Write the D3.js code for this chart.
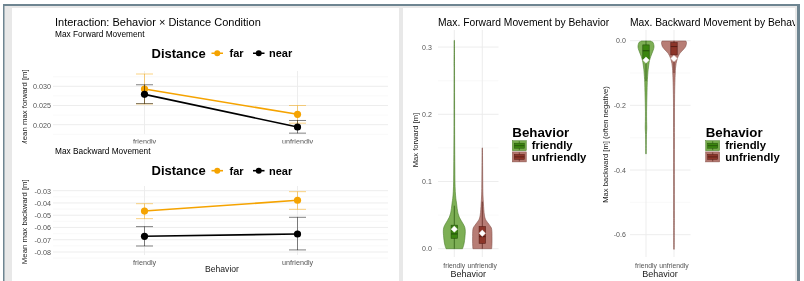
<html lang="en">
  <head>
    <meta charset="utf-8" />
    <title>Behavior x Distance</title>
    <script src="https://cdn.jsdelivr.net/npm/d3@7/dist/d3.min.js"></script>
    <style>
      body { margin: 0; background: #fff; }
      svg { will-change: transform; }
      text { font-family: "Liberation Sans", Arial, sans-serif; }
    </style>
  </head>
  <body>
    <script>
      /*************************** Data ***************************/

      var behaviors = ["friendly", "unfriendly"];
      var distances = ["far", "near"];

      // [mean, lower, upper] per behavior
      var fwdFar = [[0.0293, 0.0254, 0.0332], [0.0227, 0.0204, 0.0250]];
      var fwdNear = [[0.0279, 0.0255, 0.0304], [0.0194, 0.0178, 0.0211]];
      var bwdFar = [[-0.0466, -0.0528, -0.0406], [-0.0378, -0.0452, -0.0308]];
      var bwdNear = [[-0.0672, -0.0751, -0.0593], [-0.0653, -0.0783, -0.0517]];

      var fwdTicks = [0.020, 0.025, 0.030];
      var bwdTicks = [-0.08, -0.07, -0.06, -0.05, -0.04, -0.03];
      var vFwdTicks = [0.0, 0.1, 0.2, 0.3];
      var vBwdTicks = [-0.6, -0.4, -0.2, 0.0];

      // violin profiles: [value, relative half width]
      var vFwdFriendly = [[0, 0.75], [0.005, 0.85], [0.012, 0.93], [0.02, 0.98], [0.026, 1.0], [0.032, 0.95],
        [0.037, 0.8], [0.042, 0.62], [0.047, 0.45], [0.053, 0.33], [0.06, 0.26], [0.068, 0.2], [0.075, 0.14],
        [0.085, 0.09], [0.1, 0.06], [0.12, 0.05], [0.14, 0.04], [0.17, 0.03], [0.22, 0.025], [0.27, 0.02], [0.31, 0.015]];
      var vFwdUnfriendly = [[0, 0.85], [0.008, 0.88], [0.018, 0.88], [0.026, 0.87], [0.031, 0.82], [0.035, 0.66],
        [0.039, 0.48], [0.044, 0.28], [0.05, 0.19], [0.058, 0.14], [0.068, 0.1], [0.08, 0.06], [0.1, 0.04],
        [0.12, 0.03], [0.15, 0.015]];
      var vBwdFriendly = [[-0.001, 0.35], [-0.005, 0.55], [-0.012, 0.62], [-0.02, 0.64], [-0.03, 0.57], [-0.04, 0.47],
        [-0.05, 0.37], [-0.06, 0.29], [-0.075, 0.22], [-0.09, 0.17], [-0.11, 0.13], [-0.13, 0.1], [-0.16, 0.08],
        [-0.19, 0.06], [-0.22, 0.045], [-0.25, 0.05], [-0.27, 0.06], [-0.29, 0.035], [-0.32, 0.025], [-0.35, 0.02]];
      var vBwdUnfriendly = [[-0.001, 0.95], [-0.006, 1.0], [-0.012, 0.98], [-0.019, 0.92], [-0.025, 0.8], [-0.032, 0.63],
        [-0.039, 0.47], [-0.047, 0.35], [-0.055, 0.27], [-0.07, 0.17], [-0.085, 0.12], [-0.1, 0.1], [-0.13, 0.07],
        [-0.18, 0.045], [-0.3, 0.035], [-0.45, 0.03], [-0.55, 0.03], [-0.645, 0.02]];

      // box stats: [lowWhisker, q1, median, q3, highWhisker, mean]
      var boxFwd = [[0, 0.0155, 0.022, 0.035, 0.064, 0.029], [0, 0.008, 0.018, 0.033, 0.07, 0.023]];
      var boxBwd = [[-0.125, -0.058, -0.031, -0.013, 0, -0.06], [-0.1, -0.044, -0.018, -0.006, 0, -0.055]];

      /*************************** Styles ***************************/

      var distColor = { far: "#f5a300", near: "#000000" };
      var violinFill = ["#76ab4c", "#b3766e"];
      var violinLine = ["#4c7d2c", "#85524b"];
      var boxFill = ["#3b850f", "#8c3529"];
      var boxLine = ["#24520a", "#571d16"];
      var gridMajor = "#ebebeb", gridMinor = "#f5f5f5";
      var tickColor = "#555555";

      var svg = d3.select("body").append("svg").attr("width", 804).attr("height", 281);

      /*************************** Frame ***************************/

      svg.append("rect").attr("x", 3).attr("y", 4).attr("width", 797).attr("height", 281).attr("fill", "#e8e8e8");
      svg.append("rect").attr("x", 12).attr("y", 8).attr("width", 387).attr("height", 273).attr("fill", "#fff");
      svg.append("rect").attr("x", 403).attr("y", 8).attr("width", 392).attr("height", 273).attr("fill", "#fff");
      var frame = "#6e8591";
      svg.append("rect").attr("x", 3).attr("y", 4).attr("width", 797).attr("height", 2).attr("fill", frame);
      svg.append("rect").attr("x", 3).attr("y", 4).attr("width", 1.5).attr("height", 277).attr("fill", frame);
      svg.append("rect").attr("x", 797).attr("y", 4).attr("width", 3).attr("height", 277).attr("fill", frame);

      /*************************** Interaction plots ***************************/

      var xL = d3.scalePoint().domain(behaviors).range([144.5, 297.5]);

      function interactionPlot(g, opt) {
        var y = d3.scaleLinear().domain(opt.domain).range(opt.range);
        // grid
        opt.minor.forEach(function (v) {
          g.append("line").attr("x1", 53).attr("x2", 388).attr("y1", y(v)).attr("y2", y(v))
            .attr("stroke", gridMinor).attr("stroke-width", 0.6);
        });
        opt.ticks.forEach(function (v) {
          g.append("line").attr("x1", 53).attr("x2", 388).attr("y1", y(v)).attr("y2", y(v))
            .attr("stroke", gridMajor).attr("stroke-width", 0.9);
        });
        behaviors.forEach(function (b) {
          g.append("line").attr("x1", xL(b)).attr("x2", xL(b)).attr("y1", opt.top).attr("y2", opt.bottom)
            .attr("stroke", gridMajor).attr("stroke-width", 0.9);
        });
        // y axis
        var ax = g.append("g").attr("transform", "translate(51,0)")
          .call(d3.axisLeft(y).tickValues(opt.ticks).tickSize(0).tickPadding(0).tickFormat(opt.fmt));
        ax.select(".domain").remove();
        ax.selectAll("text").attr("fill", tickColor).style("font-size", "7.2px").style("font-family", "Liberation Sans, Arial");
        // x labels
        behaviors.forEach(function (b) {
          g.append("text").attr("x", xL(b)).attr("y", opt.bottom + 9.5).attr("text-anchor", "middle")
            .attr("fill", tickColor).style("font-size", "7.2px").text(b);
        });
        // y title
        g.append("text").attr("transform", "translate(27," + opt.ytitleY + ") rotate(-90)")
          .attr("text-anchor", "middle").style("font-size", "7.8px").attr("fill", "#1a1a1a").text(opt.ytitle);

        distances.forEach(function (d) {
          var vals = opt.series[d];
          var col = distColor[d];
          vals.forEach(function (v, i) {
            var cx = xL(behaviors[i]);
            var eb = g.append("g").attr("stroke", col).attr("stroke-opacity", 0.55).attr("stroke-width", 0.9);
            eb.append("line").attr("x1", cx).attr("x2", cx).attr("y1", y(v[1])).attr("y2", y(v[2]));
            eb.append("line").attr("x1", cx - 8.5).attr("x2", cx + 8.5).attr("y1", y(v[1])).attr("y2", y(v[1]));
            eb.append("line").attr("x1", cx - 8.5).attr("x2", cx + 8.5).attr("y1", y(v[2])).attr("y2", y(v[2]));
          });
          g.append("path").datum(vals)
            .attr("d", d3.line().x(function (v, i) { return xL(behaviors[i]); }).y(function (v) { return y(v[0]); }))
            .attr("fill", "none").attr("stroke", col).attr("stroke-width", 1.6);
          g.selectAll(null).data(vals).enter().append("circle")
            .attr("cx", function (v, i) { return xL(behaviors[i]); })
            .attr("cy", function (v) { return y(v[0]); })
            .attr("r", 3.6).attr("fill", col);
        });

        // legend
        var lg = g.append("g");
        lg.append("text").attr("x", 151.5).attr("y", opt.legendY + 4.6).style("font-size", "13px")
          .style("font-weight", "bold").attr("fill", "#000").text("Distance");
        var keyX = { far: 211.5, near: 253 };
        var labX = { far: 229.5, near: 269 };
        distances.forEach(function (d) {
          lg.append("line").attr("x1", keyX[d]).attr("x2", keyX[d] + 11.5).attr("y1", opt.legendY).attr("y2", opt.legendY)
            .attr("stroke", distColor[d]).attr("stroke-width", 1.6);
          lg.append("circle").attr("cx", keyX[d] + 5.75).attr("cy", opt.legendY).attr("r", 3).attr("fill", distColor[d]);
          lg.append("text").attr("x", labX[d]).attr("y", opt.legendY + 3.9).style("font-size", "11px")
            .style("font-weight", "bold").attr("fill", "#000").text(d);
        });
      }

      svg.append("text").attr("x", 55).attr("y", 25.5).style("font-size", "11px").attr("fill", "#000")
        .text("Interaction: Behavior \u00d7 Distance Condition");

      svg.append("clipPath").attr("id", "topclip").append("rect").attr("x", 12).attr("y", 8).attr("width", 387).attr("height", 135.5);
      var gTop = svg.append("g").attr("clip-path", "url(#topclip)");
      gTop.append("text").attr("x", 55).attr("y", 37).style("font-size", "8.3px").attr("fill", "#000").text("Max Forward Movement");
      interactionPlot(gTop, {
        domain: [0.020, 0.030], range: [124.7, 86.3], ticks: fwdTicks, minor: [0.0175, 0.0225, 0.0275, 0.0325],
        top: 71, bottom: 134, fmt: d3.format(".3f"), ytitle: "Mean max forward [m]", ytitleY: 108,
        series: { far: fwdFar, near: fwdNear }, legendY: 53.3
      });

      var gBot = svg.append("g");
      gBot.append("text").attr("x", 55).attr("y", 154).style("font-size", "8.3px").attr("fill", "#000").text("Max Backward Movement");
      interactionPlot(gBot, {
        domain: [-0.08, -0.03], range: [252, 190.7], ticks: bwdTicks, minor: [-0.085, -0.075, -0.065, -0.055, -0.045, -0.035],
        top: 186, bottom: 255, fmt: function (v) { return v.toFixed(2); }, ytitle: "Mean max backward [m]", ytitleY: 221.7,
        series: { far: bwdFar, near: bwdNear }, legendY: 170.7
      });
      svg.append("text").attr("x", 222).attr("y", 272.3).attr("text-anchor", "middle").style("font-size", "8.6px")
        .attr("fill", "#1a1a1a").text("Behavior");

      /*************************** Violin plots ***************************/

      svg.append("clipPath").attr("id", "rightclip").append("rect").attr("x", 403).attr("y", 8).attr("width", 392).attr("height", 273);
      var gRight = svg.append("g").attr("clip-path", "url(#rightclip)");

      function violinPlot(g, opt) {
        var y = d3.scaleLinear().domain(opt.domain).range(opt.range);
        var x = d3.scalePoint().domain(behaviors).range(opt.xr);
        opt.minor.forEach(function (v) {
          g.append("line").attr("x1", opt.gx[0]).attr("x2", opt.gx[1]).attr("y1", y(v)).attr("y2", y(v))
            .attr("stroke", gridMinor).attr("stroke-width", 0.6);
        });
        opt.ticks.forEach(function (v) {
          g.append("line").attr("x1", opt.gx[0]).attr("x2", opt.gx[1]).attr("y1", y(v)).attr("y2", y(v))
            .attr("stroke", gridMajor).attr("stroke-width", 0.9);
        });
        behaviors.forEach(function (b) {
          g.append("line").attr("x1", x(b)).attr("x2", x(b)).attr("y1", 30).attr("y2", opt.bottom)
            .attr("stroke", gridMajor).attr("stroke-width", 0.9);
        });
        var ax = g.append("g").attr("transform", "translate(" + opt.tickX + ",0)")
          .call(d3.axisLeft(y).tickValues(opt.ticks).tickSize(0).tickPadding(0).tickFormat(function (v) { return v.toFixed(1); }));
        ax.select(".domain").remove();
        ax.selectAll("text").attr("fill", tickColor).style("font-size", "7px").style("font-family", "Liberation Sans, Arial");

        behaviors.forEach(function (b, i) {
          var cx = x(b);
          var W = opt.W;
          var area = d3.area().curve(d3.curveCatmullRom)
            .y(function (d) { return y(d[0]); })
            .x0(function (d) { return cx - d[1] * W; })
            .x1(function (d) { return cx + d[1] * W; });
          g.append("path").datum(opt.violins[i]).attr("d", area)
            .attr("fill", violinFill[i]).attr("fill-opacity", 0.95)
            .attr("stroke", violinLine[i]).attr("stroke-width", 0.6);
          var s = opt.boxes[i];
          var hw = 3.2;
          g.append("line").attr("x1", cx).attr("x2", cx).attr("y1", y(s[0])).attr("y2", y(s[4]))
            .attr("stroke", boxLine[i]).attr("stroke-width", 0.7);
          g.append("rect").attr("x", cx - hw).attr("width", 2 * hw)
            .attr("y", Math.min(y(s[1]), y(s[3]))).attr("height", Math.abs(y(s[1]) - y(s[3])))
            .attr("fill", boxFill[i]).attr("stroke", boxLine[i]).attr("stroke-width", 0.6);
          g.append("line").attr("x1", cx - hw).attr("x2", cx + hw).attr("y1", y(s[2])).attr("y2", y(s[2]))
            .attr("stroke", boxLine[i]).attr("stroke-width", 1.1);
          g.append("path").attr("d", d3.symbol(d3.symbolSquare, 20)())
            .attr("transform", "translate(" + cx + "," + y(s[5]) + ") rotate(45)")
            .attr("fill", "#fff").attr("stroke", "#f2f2f2").attr("stroke-width", 0.5);
          g.append("text").attr("x", cx).attr("y", 268).attr("text-anchor", "middle").attr("fill", tickColor)
            .style("font-size", "6.8px").text(b);
        });
        g.append("text").attr("x", d3.mean(opt.xr)).attr("y", 277.3).attr("text-anchor", "middle")
          .style("font-size", "9px").attr("fill", "#1a1a1a").text("Behavior");
        g.append("text").attr("transform", "translate(" + opt.ytitleX + "," + opt.ytitleY + ") rotate(-90)")
          .attr("text-anchor", "middle").style("font-size", "7.6px").attr("fill", "#1a1a1a").text(opt.ytitle);
        g.append("text").attr("x", opt.gx[0]).attr("y", 25.5).style("font-size", "10.3px").attr("fill", "#000").text(opt.title);

        // legend
        var lx = opt.legendX;
        g.append("text").attr("x", lx).attr("y", 136.5).style("font-size", "13.3px").style("font-weight", "bold")
          .attr("fill", "#000").text("Behavior");
        behaviors.forEach(function (b, i) {
          var ky = 140.7 + i * 11.2;
          g.append("rect").attr("x", lx).attr("y", ky).attr("width", 14).attr("height", 10)
            .attr("fill", violinFill[i]).attr("stroke", violinLine[i]).attr("stroke-width", 0.5);
          g.append("line").attr("x1", lx + 7).attr("x2", lx + 7).attr("y1", ky + 0.5).attr("y2", ky + 9.5)
            .attr("stroke", boxLine[i]).attr("stroke-width", 0.6);
          g.append("rect").attr("x", lx + 2).attr("y", ky + 2.5).attr("width", 10).attr("height", 5)
            .attr("fill", boxFill[i]).attr("stroke", boxLine[i]).attr("stroke-width", 0.5);
          g.append("line").attr("x1", lx + 2).attr("x2", lx + 12).attr("y1", ky + 5).attr("y2", ky + 5)
            .attr("stroke", boxLine[i]).attr("stroke-width", 0.9);
          g.append("text").attr("x", lx + 19.5).attr("y", ky + 8.6).style("font-size", "11.3px").style("font-weight", "bold")
            .attr("fill", "#000").text(b);
        });
      }

      violinPlot(gRight, {
        domain: [0, 0.3], range: [248.7, 47.1], ticks: vFwdTicks, minor: [0.05, 0.15, 0.25],
        xr: [454.3, 482.3], gx: [438, 498.5], tickX: 431.8, bottom: 257, W: 11,
        violins: [vFwdFriendly, vFwdUnfriendly], boxes: boxFwd,
        ytitle: "Max forward [m]", ytitleX: 417.5, ytitleY: 140,
        title: "Max. Forward Movement by Behavior", legendX: 512.3
      });
      violinPlot(gRight, {
        domain: [0, -0.6], range: [40.7, 234.7], ticks: vBwdTicks, minor: [-0.1, -0.3, -0.5],
        xr: [646, 674], gx: [630, 690.5], tickX: 625.8, bottom: 257, W: 12.5,
        violins: [vBwdFriendly, vBwdUnfriendly], boxes: boxBwd,
        ytitle: "Max backward [m] (often negative)", ytitleX: 607.5, ytitleY: 144.5,
        title: "Max. Backward Movement by Behavior", legendX: 705.7
      });
    </script>
  </body>
</html>
